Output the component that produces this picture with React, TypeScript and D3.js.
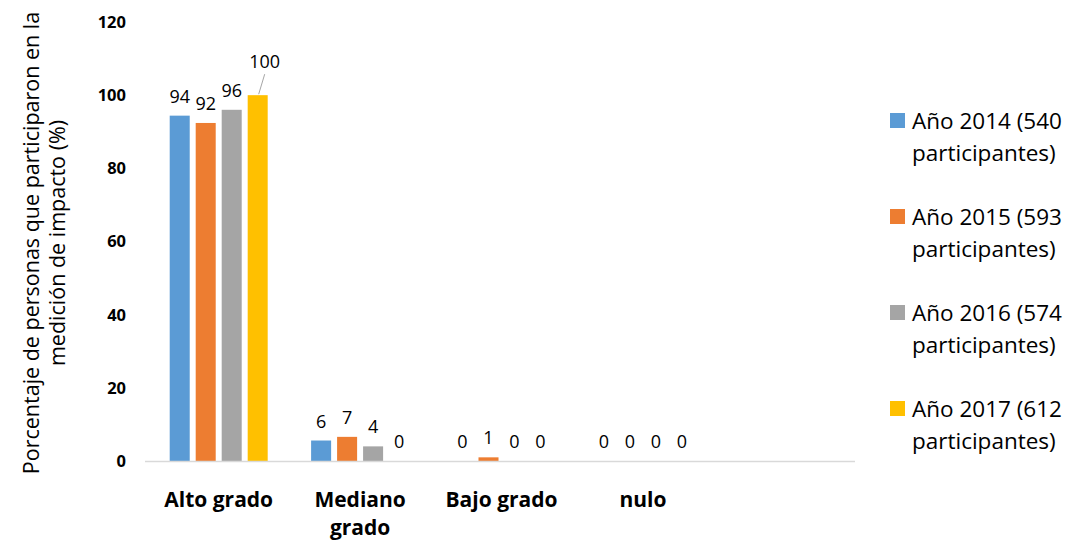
import * as d3 from "d3";
import { useEffect, useRef } from "react";

// categories (the last band is left empty, as in the original sheet)
const categories = ["Alto grado", "Mediano grado", "Bajo grado", "nulo", ""];
const seriesNames = [
  "Año 2014 (540 participantes)",
  "Año 2015 (593 participantes)",
  "Año 2016 (574 participantes)",
  "Año 2017 (612 participantes)",
];
const values2014 = [94.4, 5.6, 0, 0];
const values2015 = [92.4, 6.6, 1, 0];
const values2016 = [96, 4, 0, 0];
const values2017 = [100, 0, 0, 0];
const colors = ["#5B9BD5", "#ED7D31", "#A5A5A5", "#FFC000"];
const yTicks = [0, 20, 40, 60, 80, 100, 120];

const FONT = "'Open Sans', sans-serif";

const App = () => {
  const ref = useRef<SVGSVGElement>(null);

  useEffect(() => {
    const svg = d3.select(ref.current);
    svg.selectAll("*").remove();

    const allValues = [values2014, values2015, values2016, values2017];

    // chart area
    const left = 148, right = 855, top = 22, bottom = 461;

    const x0 = d3.scaleBand().domain(categories).range([left, right]).padding(0);
    const x1 = d3
      .scaleBand()
      .domain(seriesNames)
      .range([0, x0.bandwidth()])
      .paddingInner(0.23)
      .paddingOuter(0.835);
    const y = d3.scaleLinear().domain([0, 120]).range([bottom, top]);

    // y tick labels
    svg
      .append("g")
      .selectAll("text")
      .data(yTicks)
      .join("text")
      .attr("x", 126)
      .attr("y", (d) => y(d))
      .attr("dy", "0.36em")
      .attr("text-anchor", "end")
      .attr("font-family", FONT)
      .attr("font-weight", "bold")
      .attr("font-size", 16.5)
      .attr("fill", "#000")
      .text((d) => d);

    // bars
    allValues.forEach((vals, si) => {
      const g = svg.append("g");
      g.selectAll("rect")
        .data(vals)
        .join("rect")
        .attr("x", (_, i) => x0(categories[i])! + x1(seriesNames[si])!)
        .attr("y", (d) => y(d))
        .attr("width", x1.bandwidth())
        .attr("height", (d) => bottom - y(d))
        .attr("fill", colors[si]);

      // data labels
      vals.forEach((v, i) => {
        const cx = x0(categories[i])! + x1(seriesNames[si])! + x1.bandwidth() / 2;
        let lx = cx;
        let ly = y(v) - 13;
        if (v >= 100) {
          // label pushed up with a leader line
          lx = cx + 7;
          ly = y(v) - 27;
          g.append("line")
            .attr("x1", cx + 7)
            .attr("y1", ly + 6)
            .attr("x2", cx + 1)
            .attr("y2", y(v) - 1)
            .attr("stroke", "#a6a6a6")
            .attr("stroke-width", 1);
        }
        g.append("text")
          .attr("x", lx)
          .attr("y", ly)
          .attr("text-anchor", "middle")
          .attr("font-family", FONT)
          .attr("font-size", 18)
          .attr("fill", "#000")
          .text(Math.round(v));
      });
    });

    // x axis line
    svg
      .append("line")
      .attr("x1", left - 3)
      .attr("x2", right)
      .attr("y1", bottom + 0.5)
      .attr("y2", bottom + 0.5)
      .attr("stroke", "#d9d9d9")
      .attr("stroke-width", 1.5);

    // category labels
    categories.forEach((c) => {
      if (!c) return;
      const words = c.split(" ");
      const lines = c.length > 11 ? [words[0], words.slice(1).join(" ")] : [c];
      const t = svg
        .append("text")
        .attr("x", x0(c)! + x0.bandwidth() / 2)
        .attr("y", 507)
        .attr("text-anchor", "middle")
        .attr("font-family", FONT)
        .attr("font-weight", "bold")
        .attr("font-size", 21)
        .attr("fill", "#000");
      lines.forEach((l, i) => {
        t.append("tspan")
          .attr("x", x0(c)! + x0.bandwidth() / 2)
          .attr("dy", i === 0 ? 0 : 28)
          .text(l);
      });
    });

    // y axis title
    const title = svg
      .append("text")
      .attr("transform", "translate(39,243) rotate(-90)")
      .attr("text-anchor", "middle")
      .attr("font-family", FONT)
      .attr("font-size", 21.5)
      .attr("fill", "#000");
    title.append("tspan").attr("x", 0).attr("dy", 0).text("Porcentaje de personas que participaron en la");
    title.append("tspan").attr("x", 0).attr("dy", 26).text("medición de impacto (%)");

    // legend
    seriesNames.forEach((name, i) => {
      const ly = 120 + i * 96;
      svg
        .append("rect")
        .attr("x", 890)
        .attr("y", ly - 7)
        .attr("width", 15)
        .attr("height", 15)
        .attr("fill", colors[i]);
      const idx = name.indexOf(" participantes");
      const t = svg
        .append("text")
        .attr("font-family", FONT)
        .attr("font-size", 22.5)
        .attr("fill", "#000");
      t.append("tspan").attr("x", 912).attr("y", ly + 9).text(name.slice(0, idx));
      t.append("tspan").attr("x", 912).attr("y", ly + 41).text(name.slice(idx + 1));
    });
  }, []);

  return (
    <svg
      ref={ref}
      width={1075}
      height={542}
      style={{ position: "absolute", left: 0, top: 0, background: "#fff" }}
    />
  );
};

export default App;
